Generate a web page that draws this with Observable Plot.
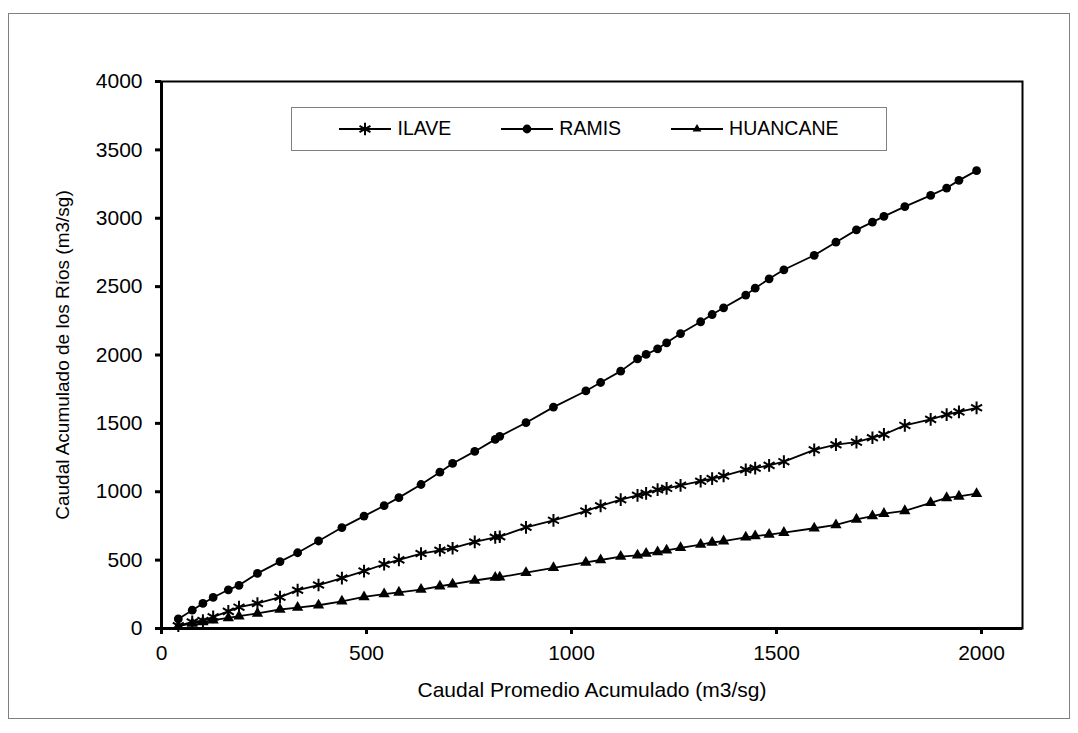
<!DOCTYPE html>
<html>
<head>
<meta charset="utf-8">
<script src="https://cdn.jsdelivr.net/npm/d3@7"></script>
<script src="https://cdn.jsdelivr.net/npm/@observablehq/plot@0.6"></script>
<style>
  html, body { margin: 0; padding: 0; background: #fff; }
  body { font-family: "Liberation Sans", Arial, sans-serif; }
  #wrap { position: relative; width: 1078px; height: 733px; overflow: hidden; }
  #border { position: absolute; left: 8px; top: 13px; width: 1062px; height: 706px;
            border: 1px solid #808080; box-sizing: border-box; pointer-events: none; }
  #legend { position: absolute; left: 291px; top: 107px; width: 596px; height: 44px;
            border: 1px solid #808080; box-sizing: border-box; background: #fff;
            display: flex; align-items: center; justify-content: center; gap: 50px;
            font-size: 19.5px; color: #000; }
  .item { display: flex; align-items: center; }
  .item svg { display: block; }
  .item span { margin-left: 6px; line-height: 1; }
</style>
</head>
<body>
<div id="wrap">
  <div id="chart"></div>
  <div id="legend"></div>
  <div id="border"></div>
</div>
<script>
// Caudal Promedio Acumulado (m3/sg) - shared x values
const caudalPromedio = [41, 75, 101, 126, 163, 189, 234, 289, 332, 383, 440, 494, 543, 579, 633, 679, 710, 764, 814, 825, 889, 956, 1035, 1071, 1120, 1161, 1182, 1210, 1232, 1266, 1315, 1343, 1371, 1425, 1448, 1482, 1518, 1592, 1645, 1695, 1734, 1762, 1813, 1876, 1915, 1945, 1988];

// Caudal Acumulado de los Ríos (m3/sg)
const ilave = [20, 48, 58, 85, 125, 156, 183, 229, 280, 318, 369, 420, 470, 502, 548, 572, 587, 633, 667, 671, 740, 791, 859, 897, 942, 974, 988, 1015, 1025, 1047, 1077, 1096, 1116, 1161, 1173, 1193, 1220, 1306, 1344, 1363, 1395, 1419, 1485, 1529, 1564, 1584, 1614];
const ramis = [70, 134, 183, 227, 283, 316, 403, 489, 554, 640, 738, 822, 898, 957, 1053, 1143, 1207, 1295, 1383, 1405, 1505, 1619, 1737, 1799, 1882, 1971, 2004, 2045, 2089, 2157, 2243, 2296, 2345, 2438, 2489, 2557, 2623, 2729, 2825, 2915, 2972, 3014, 3085, 3167, 3221, 3277, 3348];
const huancane = [17, 37, 48, 61, 77, 90, 110, 139, 153, 170, 199, 231, 252, 264, 285, 309, 324, 351, 373, 375, 408, 444, 483, 501, 526, 535, 548, 559, 572, 590, 614, 629, 639, 667, 676, 687, 701, 733, 757, 798, 822, 840, 860, 919, 955, 966, 986];

const seriesNames = ["ILAVE", "RAMIS", "HUANCANE"];
const xTicks = [0, 500, 1000, 1500, 2000];
const yTicks = [0, 500, 1000, 1500, 2000, 2500, 3000, 3500, 4000];
const xTitle = "Caudal Promedio Acumulado (m3/sg)";
const yTitle = "Caudal Acumulado de los Ríos (m3/sg)";

const seriesValues = { ILAVE: ilave, RAMIS: ramis, HUANCANE: huancane };
const data = seriesNames.flatMap(name =>
  caudalPromedio.map((x, i) => ({ serie: name, x, y: seriesValues[name][i] }))
);
const only = name => data.filter(d => d.serie === name);

const FONT = "Liberation Sans, Arial, sans-serif";

const chart = Plot.plot({
  width: 1078,
  height: 733,
  marginLeft: 161,
  marginRight: 56,
  marginTop: 81,
  marginBottom: 105,
  style: { fontFamily: FONT, fontSize: "21px", color: "#000", background: "transparent", overflow: "visible" },
  x: { domain: [0, 2100] },
  y: { domain: [0, 4000] },
  marks: [
    Plot.frame({ stroke: "#000", strokeWidth: 2 }),
    Plot.axisX({ ticks: xTicks, tickFormat: d => String(d), tickSize: 6, tickPadding: 11, strokeWidth: 3, label: null, fontSize: 21 }),
    Plot.axisY({ ticks: yTicks, tickFormat: d => String(d), tickSize: 6, tickPadding: 13, strokeWidth: 3, label: null, fontSize: 21 }),
    Plot.ruleX([0], { stroke: "#000", strokeWidth: 3 }),
    Plot.ruleY([0], { stroke: "#000", strokeWidth: 3 }),
    Plot.line(data, { x: "x", y: "y", z: "serie", stroke: "#000", strokeWidth: 1.8 }),
    Plot.dot(only("RAMIS"), { x: "x", y: "y", symbol: "circle", r: 4.4, fill: "#000", stroke: "none" }),
    Plot.dot(only("ILAVE"), { x: "x", y: "y", symbol: "asterisk", r: 6, stroke: "#000", strokeWidth: 2, fill: "none" }),
    Plot.dot(only("HUANCANE"), { x: "x", y: "y", symbol: "triangle", r: 4.2, fill: "#000", stroke: "none" }),
    Plot.text([xTitle], { frameAnchor: "bottom", dy: 62, lineAnchor: "middle", textAnchor: "middle", text: d => d, fontSize: 21, fill: "#000" }),
    Plot.text([yTitle], { frameAnchor: "left", dx: -99, rotate: -90, lineAnchor: "middle", textAnchor: "middle", text: d => d, fontSize: 19, fill: "#000" })
  ]
});
document.getElementById("chart").appendChild(chart);

// Legend
const symbolsFor = { ILAVE: d3.symbolAsterisk, RAMIS: d3.symbolCircle, HUANCANE: d3.symbolTriangle2 };
const sizeFor = { ILAVE: Math.PI * 36, RAMIS: Math.PI * 4.4 * 4.4, HUANCANE: Math.PI * 4.2 * 4.2 };
const legend = d3.select("#legend");
for (const name of seriesNames) {
  const item = legend.append("div").attr("class", "item");
  const svg = item.append("svg").attr("width", 52).attr("height", 20);
  svg.append("line").attr("x1", 0).attr("x2", 52).attr("y1", 10).attr("y2", 10)
    .attr("stroke", "#000").attr("stroke-width", 1.8);
  const p = svg.append("path")
    .attr("transform", "translate(26,10)")
    .attr("d", d3.symbol(symbolsFor[name], sizeFor[name])());
  if (name === "ILAVE") p.attr("fill", "none").attr("stroke", "#000").attr("stroke-width", 2);
  else p.attr("fill", "#000");
  item.append("span").text(name);
}
</script>
</body>
</html>
